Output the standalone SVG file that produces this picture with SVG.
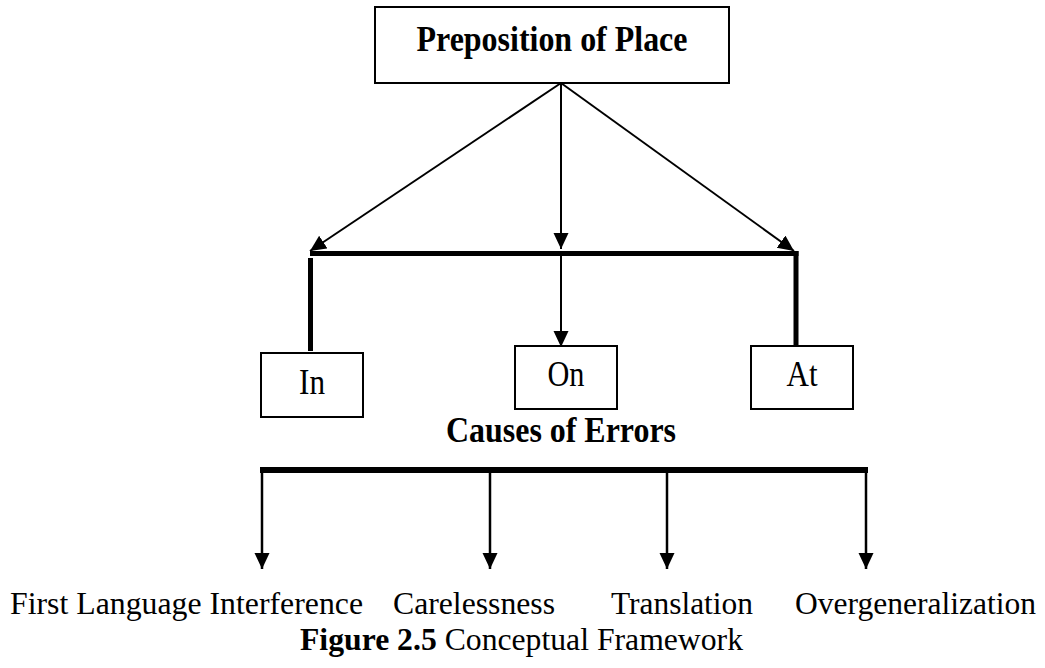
<svg xmlns="http://www.w3.org/2000/svg" width="1045" height="668" viewBox="0 0 1045 668">
<style>
.box{fill:#fff;stroke:#000;stroke-width:2}
.t{font-family:"Liberation Serif","Times New Roman",serif;font-size:35px;fill:#000}
.s{font-size:32px}
.b{font-weight:bold}
.thin{stroke:#000;stroke-width:2;fill:none}
.thick{stroke:#000;stroke-width:5;fill:none}
.mid{stroke:#000;stroke-width:2.5;fill:none}
</style>
<defs>
<marker id="ah" markerUnits="userSpaceOnUse" markerWidth="17" markerHeight="16" refX="16" refY="7.5" orient="auto" viewBox="0 0 17 16">
<path d="M0,0 L16,7.5 L0,15 z" fill="#000"/>
</marker>
</defs>
<rect width="1045" height="668" fill="#fff"/>
<g id="connectors">
<line class="thin" x1="561" y1="83" x2="310" y2="251" marker-end="url(#ah)"/>
<line class="thin" x1="561" y1="83" x2="561" y2="249" marker-end="url(#ah)"/>
<line class="thin" x1="561" y1="83" x2="794" y2="251" marker-end="url(#ah)"/>
<line class="thick" x1="310" y1="253.5" x2="798.5" y2="253.5"/>
<line class="thick" x1="310.5" y1="258" x2="310.5" y2="351"/>
<line class="thick" x1="796" y1="251" x2="796" y2="346"/>
<line class="thin" x1="561" y1="256" x2="561" y2="347" marker-end="url(#ah)"/>
<line stroke="#000" stroke-width="6" x1="260" y1="470" x2="868" y2="470"/>
<line class="mid" x1="262" y1="470" x2="262" y2="569" marker-end="url(#ah)"/>
<line class="mid" x1="490" y1="470" x2="490" y2="569" marker-end="url(#ah)"/>
<line class="mid" x1="667" y1="470" x2="667" y2="569" marker-end="url(#ah)"/>
<line class="mid" x1="866" y1="470" x2="866" y2="569" marker-end="url(#ah)"/>
</g>
<g id="preposition">
<rect class="box" x="375" y="7" width="354" height="76"/>
<text class="t b" x="552" y="51" text-anchor="middle" textLength="271" lengthAdjust="spacingAndGlyphs">Preposition of Place</text>
</g>
<g id="in">
<rect class="box" x="261" y="353" width="102" height="64"/>
<text class="t" x="312" y="394" text-anchor="middle" textLength="26" lengthAdjust="spacingAndGlyphs">In</text>
</g>
<g id="on">
<rect class="box" x="515" y="346" width="102" height="63"/>
<text class="t" x="566" y="386" text-anchor="middle" textLength="37" lengthAdjust="spacingAndGlyphs">On</text>
</g>
<g id="at">
<rect class="box" x="751" y="346" width="102" height="63"/>
<text class="t" x="802" y="386" text-anchor="middle" textLength="31" lengthAdjust="spacingAndGlyphs">At</text>
</g>
<g id="causes">
<text class="t b" x="561" y="442" text-anchor="middle" textLength="230" lengthAdjust="spacingAndGlyphs">Causes of Errors</text>
</g>
<g id="first-language">
<text class="t s" x="10" y="614" textLength="353" lengthAdjust="spacingAndGlyphs">First Language Interference</text>
</g>
<g id="carelessness">
<text class="t s" x="393" y="614" textLength="162" lengthAdjust="spacingAndGlyphs">Carelessness</text>
</g>
<g id="translation">
<text class="t s" x="611" y="614" textLength="142" lengthAdjust="spacingAndGlyphs">Translation</text>
</g>
<g id="overgeneralization">
<text class="t s" x="795" y="614" textLength="241" lengthAdjust="spacingAndGlyphs">Overgeneralization</text>
</g>
<g id="caption">
<text class="t s" x="300" y="650" textLength="443" lengthAdjust="spacingAndGlyphs"><tspan class="b">Figure 2.5</tspan> Conceptual Framework</text>
</g>
</svg>
